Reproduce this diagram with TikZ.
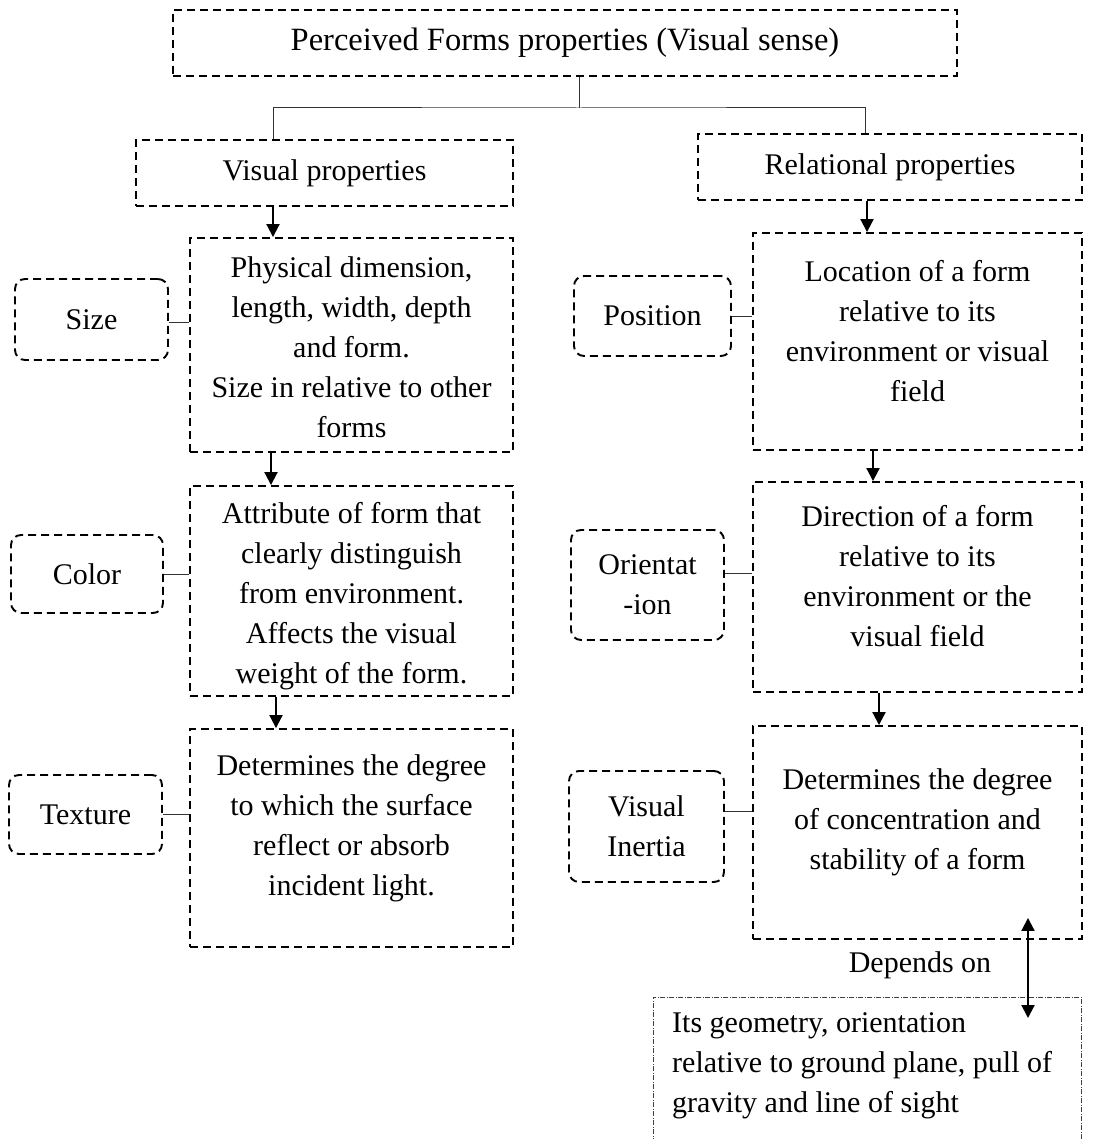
\documentclass[tikz,border=0pt]{standalone}
\usepackage{fontspec}
\setmainfont{Liberation Serif}
\usetikzlibrary{arrows.meta}
\begin{document}
\begin{tikzpicture}[x=1pt,y=-1pt,
  every node/.style={font=\fontsize{30}{40}\selectfont},
  box/.style={draw, line width=1.9pt, dash pattern=on 8pt off 5pt, inner sep=0pt},
  tag/.style={box, rounded corners=10pt},
  txt/.style={align=center, inner sep=0pt},
  link/.style={draw=black!80, line width=1pt},
  arr/.style={line width=2pt, -{Triangle[length=13pt,width=13pt]}},
  twoway/.style={line width=2pt, {Triangle[length=13pt,width=13pt]}-{Triangle[length=13pt,width=13pt]}},
  notebox/.style={draw=black!75, line width=0.8pt, dash pattern=on 5pt off 1.5pt on 1pt off 1.5pt, inner sep=0pt},
]
\useasboundingbox (0,0) rectangle (1110,1139);

% headings
\node[box, minimum width=784, minimum height=66, font=\fontsize{32.5}{40}\selectfont] (top) at (565,43) {Perceived Forms properties (Visual sense)};
\node[box, minimum width=377, minimum height=66] (vis) at (324.5,173) {Visual properties};
\node[box, minimum width=384, minimum height=66] (rel) at (890,167) {Relational properties};

% visual properties column
\node[box, minimum width=323, minimum height=214] (phys) at (351.5,345) {};
\node[txt] (physT) at (351.5,347.5) {Physical dimension,\\length, width, depth\\and form.\\Size in relative to other\\forms};
\node[box, minimum width=323, minimum height=210] (attr) at (351.5,591) {};
\node[txt] (attrT) at (351.5,596) {Attribute of form that\\clearly distinguish\\from environment.\\Affects the visual\\weight of the form.};
\node[box, minimum width=323, minimum height=218] (surf) at (351.5,838) {};
\node[txt] (surfT) at (351.5,828) {Determines the degree\\to which the surface\\reflect or absorb\\incident light.};

\node[tag, minimum width=153, minimum height=81] (size) at (91.5,319.5) {Size};
\node[tag, minimum width=152, minimum height=78] (color) at (87,574) {Color};
\node[tag, minimum width=153, minimum height=79] (texture) at (85.5,814.5) {Texture};

% relational properties column
\node[box, minimum width=329, minimum height=217] (loc) at (917.5,341.5) {};
\node[txt] (locT) at (917.5,331) {Location of a form\\relative to its\\environment or visual\\field};
\node[box, minimum width=329, minimum height=210] (dir) at (917.5,587) {};
\node[txt] (dirT) at (917.5,576) {Direction of a form\\relative to its\\environment or the\\visual field};
\node[box, minimum width=329, minimum height=213] (conc) at (917.5,832.5) {};
\node[txt] (concT) at (917.5,822) {Determines the degree\\of concentration and\\stability of a form};

\node[tag, minimum width=157, minimum height=80] (position) at (652.5,316) {Position};
\node[tag, minimum width=153, minimum height=110, align=center] (orient) at (647.5,585) {Orientat\\-ion};
\node[tag, minimum width=155, minimum height=111, align=center] (inertia) at (646.5,826.5) {Visual\\Inertia};

% dependency note
\node[notebox, anchor=north west, minimum width=428, minimum height=200] (geo) at (653,997) {};
\node[align=left, inner sep=0pt, anchor=north west] (geoT) at (672,1012) {Its geometry, orientation\\relative to ground plane, pull of\\gravity and line of sight};
\node[inner sep=0pt] (dep) at (920,965) {Depends on};

% branch from the title
\coordinate (bus) at (579,108);
\coordinate (visx) at (273,0);
\coordinate (relx) at (865,0);
\draw[link] (top.south -| bus) -- (bus);
\draw[link] (vis.north -| visx) |- (bus) -| (rel.north -| relx);

% flow arrows
\coordinate (lx1) at (273,0);
\coordinate (lx2) at (271,0);
\coordinate (lx3) at (276,0);
\coordinate (rx1) at (867,0);
\coordinate (rx2) at (873,0);
\coordinate (rx3) at (879,0);
\draw[arr] (vis.south -| lx1) -- (phys.north -| lx1);
\draw[arr] (phys.south -| lx2) -- (attr.north -| lx2);
\draw[arr] (attr.south -| lx3) -- (surf.north -| lx3);
\draw[arr] (rel.south -| rx1) -- (loc.north -| rx1);
\draw[arr] (loc.south -| rx2) -- (dir.north -| rx2);
\draw[arr] (dir.south -| rx3) -- (conc.north -| rx3);

% tags to their descriptions
\draw[link] ([yshift=-2.5pt]size.east) -- ([yshift=-2.5pt]size.east -| phys.west);
\draw[link] (color.east) -- (color.east -| attr.west);
\draw[link] (texture.east) -- (texture.east -| surf.west);
\draw[link] (position.east) -- (position.east -| loc.west);
\draw[link] ([yshift=12pt]orient.east) -- ([yshift=12pt]orient.east -| dir.west);
\draw[link] ([yshift=15pt]inertia.east) -- ([yshift=15pt]inertia.east -| conc.west);

% two-way link to the note
\coordinate (dx) at (1028,0);
\draw[twoway] ([yshift=22pt]conc.south -| dx) -- ([yshift=-21pt]geo.north -| dx);
\end{tikzpicture}
\end{document}
